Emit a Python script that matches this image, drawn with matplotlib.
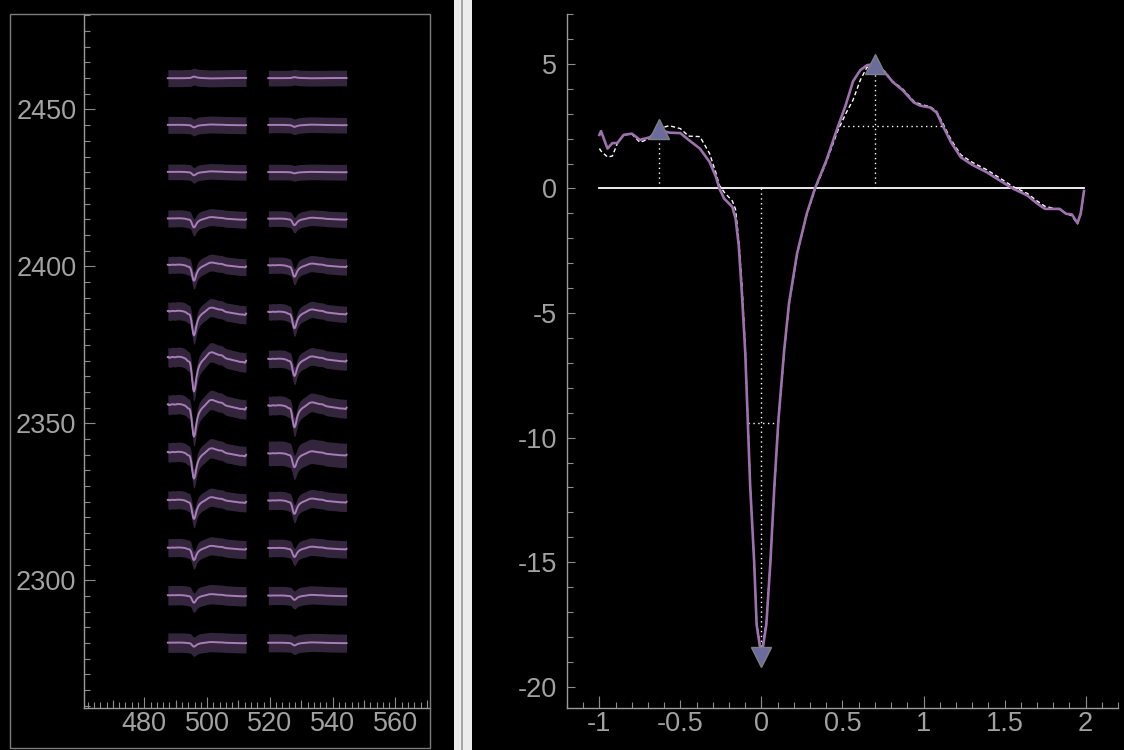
import numpy as np
import matplotlib
matplotlib.use('Agg')
import matplotlib.pyplot as plt
from matplotlib.patches import Rectangle
from matplotlib.ticker import MultipleLocator, FixedLocator, NullLocator, FuncFormatter

plt.rcParams['font.family'] = ['Liberation Sans', 'DejaVu Sans']
plt.rcParams['axes.unicode_minus'] = False

# ---------------- data ----------------
time_ms = [-1.0, -0.99, -0.95, -0.92, -0.89, -0.85, -0.80, -0.75, -0.69, -0.63,
           -0.57, -0.50, -0.45, -0.38, -0.32, -0.28, -0.26, -0.23, -0.18, -0.16,
           -0.14, -0.12, -0.10, -0.085, -0.07, -0.045, -0.03, 0.0, 0.03, 0.055,
           0.08, 0.105, 0.14, 0.17, 0.22, 0.28, 0.33, 0.40, 0.47, 0.52,
           0.565, 0.61, 0.65, 0.70, 0.76, 0.81, 0.87, 0.94, 0.98, 1.04,
           1.08, 1.12, 1.17, 1.23, 1.30, 1.39, 1.47, 1.55, 1.64, 1.70,
           1.75, 1.84, 1.88, 1.915, 1.95, 1.97, 1.99]

mean_wave = [2.15, 2.30, 1.60, 1.82, 1.82, 2.15, 2.20, 1.95, 2.05, 2.35,
             2.24, 2.22, 1.95, 1.60, 1.06, 0.45, 0.00, -0.41, -0.74, -1.20,
             -2.30, -4.30, -6.60, -9.25, -11.90, -15.00, -17.50, -18.80, -17.50, -15.00,
             -11.90, -9.25, -6.50, -4.60, -2.60, -1.00, 0.00, 1.12, 2.45, 3.35,
             4.30, 4.75, 4.94, 5.00, 4.67, 4.27, 3.95, 3.45, 3.32, 3.25,
             3.05, 2.50, 1.85, 1.25, 0.95, 0.65, 0.32, 0.00, -0.28, -0.60,
             -0.82, -0.82, -1.02, -1.04, -1.39, -1.00, -0.10]

template_wave = [1.60, 1.50, 1.26, 1.30, 1.80, 2.15, 2.18, 1.85, 2.00, 2.40,
                 2.52, 2.40, 2.10, 2.08, 1.40, 0.60, 0.13, -0.15, -0.50, -0.84,
                 -2.10, -3.90, -6.40, -9.10, -11.80, -15.00, -17.40, -18.70, -17.40, -15.00,
                 -12.00, -9.35, -6.60, -4.70, -2.65, -1.05, -0.05, 1.05, 2.30, 3.00,
                 3.55, 4.35, 4.85, 5.00, 4.70, 4.30, 4.00, 3.50, 3.38, 3.28,
                 3.10, 2.60, 1.95, 1.35, 1.05, 0.75, 0.42, 0.08, -0.20, -0.50,
                 -0.72, -0.85, -1.00, -1.10, -1.42, -1.05, -0.12]

channel_rows_um = [2460, 2445, 2430, 2415, 2400, 2385, 2370, 2355, 2340, 2325, 2310, 2295, 2280]
channel_cols_um = [500, 532]
trough_depth_col1 = [-0.5, 0.8, 1.1, 2.9, 5.1, 7.8, 11.0, 10.3, 8.5, 6.1, 4.0, 2.4, 1.3]
trough_depth_col2 = [-0.3, 0.6, 0.4, 2.1, 3.7, 5.3, 5.5, 7.0, 4.5, 4.3, 2.9, 1.4, 0.85]
spread_col1 = [2.7, 2.7, 2.5, 2.7, 2.7, 2.9, 3.1, 3.1, 3.1, 2.9, 2.9, 3.1, 3.1]
spread_col2 = [2.5, 2.5, 2.5, 2.5, 2.6, 2.6, 2.8, 3.0, 3.9, 2.9, 2.8, 2.9, 2.9]

pre_peak = (-0.63, 2.37)
post_peak = (0.70, 5.00)
trough = (0.0, -18.80)
peak_half_span = (0.47, 1.12, 2.50)
trough_half_span = (-0.085, 0.105, -9.40)

# ---------------- style ----------------
W, H = 1124, 750
fig = plt.figure(figsize=(W / 100, H / 100), dpi=100, facecolor='black')

LBL = '#a2a2a2'
TICK = '#8c8c8c'
SPINE = '#9a9a9a'
FS = 19.5
LINE_L = '#a87db9'
BAND = '#33253b'
LINE_R = '#9c71ad'
MARK = '#6b6b9e'


def fx(px):
    return px / W


def fy(py):
    return 1 - py / H


# splitter and frame
fig.patches.append(Rectangle((fx(454), 0), fx(18), 1, transform=fig.transFigure,
                             facecolor='#ececec', edgecolor='none', zorder=0))
fig.patches.append(Rectangle((fx(460.5), 0), fx(2.2), 1, transform=fig.transFigure,
                             facecolor='#a6a6a6', edgecolor='none', zorder=1))
fig.patches.append(Rectangle((fx(10), fy(748)), fx(420), (748 - 14) / H,
                             transform=fig.transFigure, facecolor='none',
                             edgecolor='#7c7c7c', lw=1.0, zorder=1))

# ---------------- left panel ----------------
axL = fig.add_axes([fx(84), fy(708), fx(430 - 84), (708 - 14) / H])
axL.set_facecolor('black')
axL.set_xlim(460.8, 571.0)
axL.set_ylim(2259.3, 2480.4)

t = np.array(time_ms)
mw = np.array(mean_wave)
span = mw[0] - mw.min()
xs_rel = (t - 0.5) / 3.0 * 25.0
for cx, depths, spreads in [(channel_cols_um[0], trough_depth_col1, spread_col1),
                            (channel_cols_um[1], trough_depth_col2, spread_col2)]:
    for ry, d, w in zip(channel_rows_um, depths, spreads):
        tr = ry + mw * (d / span)
        xx = cx + xs_rel
        axL.fill_between(xx, tr - w, tr + w, color=BAND, lw=0, zorder=2)
        axL.plot(xx, tr, color=LINE_L, lw=1.4, zorder=3)

for s in ['top', 'right']:
    axL.spines[s].set_visible(False)
for s in ['left', 'bottom']:
    axL.spines[s].set_color(SPINE)
    axL.spines[s].set_linewidth(1.0)

axL.xaxis.set_major_locator(MultipleLocator(20))
axL.xaxis.set_minor_locator(MultipleLocator(2))
axL.yaxis.set_major_locator(MultipleLocator(50))
axL.yaxis.set_minor_locator(MultipleLocator(5))
axL.tick_params(which='major', direction='in', color=TICK, width=0.8, labelcolor=LBL,
                labelsize=FS)
axL.tick_params(axis='x', which='major', length=7.7, pad=2.5)
axL.tick_params(axis='y', which='major', length=7.7, pad=5.5)
axL.tick_params(which='minor', direction='in', color=TICK, width=0.8, length=4.0)
axL.xaxis.set_major_formatter(FuncFormatter(lambda v, p: '%g' % v))
axL.yaxis.set_major_formatter(FuncFormatter(lambda v, p: '%g' % v))

secL = axL.secondary_xaxis('bottom')
secL.xaxis.set_major_locator(FixedLocator(list(range(470, 571, 20))))
secL.xaxis.set_minor_locator(NullLocator())
secL.tick_params(axis='x', direction='in', length=5.8, width=0.8, color=TICK, labelbottom=False)
secL.spines['bottom'].set_visible(False)

# ---------------- right panel ----------------
axR = fig.add_axes([fx(567), fy(708), fx(1118 - 567), (708 - 14) / H])
axR.set_facecolor('black')
axR.set_xlim(-1.2, 2.2)
axR.set_ylim(-20.85, 7.0)

axR.plot([time_ms[0], time_ms[-1]], [0, 0], color='white', lw=1.3, zorder=2)
axR.plot(time_ms, template_wave, color='white', lw=1.0, ls=(0, (3, 2)), zorder=3)
axR.plot(time_ms, mean_wave, color=LINE_R, lw=1.9, zorder=4)

dot = dict(color='white', lw=1.0, ls=(0, (1, 2.5)), zorder=3)
axR.plot([pre_peak[0], pre_peak[0]], [0, pre_peak[1]], **dot)
axR.plot([post_peak[0], post_peak[0]], [0, post_peak[1]], **dot)
axR.plot([trough[0], trough[0]], [0, trough[1]], **dot)
axR.plot([peak_half_span[0], peak_half_span[1]], [peak_half_span[2]] * 2, **dot)
axR.plot([trough_half_span[0], trough_half_span[1]], [trough_half_span[2]] * 2, **dot)

mk = dict(markersize=14, markerfacecolor=MARK, markeredgecolor='#7f7f7f',
          markeredgewidth=1.0, linestyle='none', zorder=5)
axR.plot([pre_peak[0]], [pre_peak[1]], marker='^', **mk)
axR.plot([post_peak[0]], [post_peak[1]], marker='^', **mk)
axR.plot([trough[0]], [trough[1]], marker='v', **mk)

for s in ['top', 'right']:
    axR.spines[s].set_visible(False)
for s in ['left', 'bottom']:
    axR.spines[s].set_color(SPINE)
    axR.spines[s].set_linewidth(1.0)

axR.xaxis.set_major_locator(MultipleLocator(0.5))
axR.xaxis.set_minor_locator(MultipleLocator(0.1))
axR.yaxis.set_major_locator(MultipleLocator(5))
axR.yaxis.set_minor_locator(MultipleLocator(1))
axR.tick_params(which='major', direction='in', color=TICK, width=0.8, labelcolor=LBL,
                labelsize=FS)
axR.tick_params(axis='x', which='major', length=6.0, pad=2.5)
axR.tick_params(axis='y', which='major', length=6.0, pad=7.0)
axR.tick_params(which='minor', direction='in', color=TICK, width=0.8, length=4.3)
axR.xaxis.set_major_formatter(FuncFormatter(lambda v, p: '%g' % round(v, 2)))
axR.yaxis.set_major_formatter(FuncFormatter(lambda v, p: '%g' % round(v, 2)))

secR = axR.secondary_xaxis('bottom')
secR.xaxis.set_major_locator(FixedLocator([-1, 0, 1, 2]))
secR.xaxis.set_minor_locator(NullLocator())
secR.tick_params(axis='x', direction='in', length=8.6, width=0.8, color=TICK, labelbottom=False)
secR.spines['bottom'].set_visible(False)

fig.savefig('out.png', dpi=100, facecolor='black')
